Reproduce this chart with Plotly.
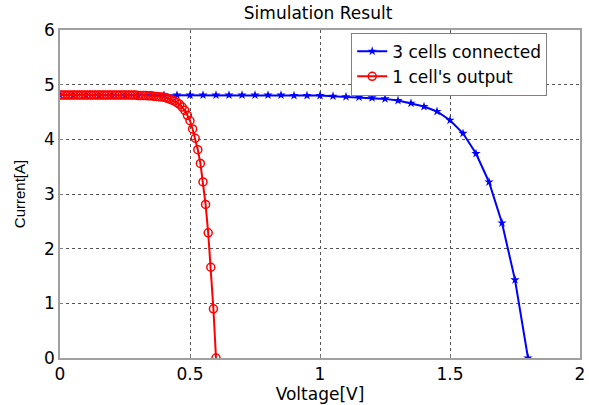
import plotly.graph_objects as go

# 3 cells in series: voltage 0..1.8 V, step 0.05
v_three = [round(i * 0.05, 2) for i in range(37)]
i_three = [4.81, 4.81, 4.81, 4.81, 4.81, 4.81, 4.81, 4.81, 4.81, 4.81,
           4.81, 4.81, 4.81, 4.81, 4.81, 4.81, 4.81, 4.81, 4.80, 4.80,
           4.80, 4.79, 4.78, 4.77, 4.76, 4.74, 4.71, 4.66, 4.60, 4.51,
           4.35, 4.11, 3.74, 3.22, 2.47, 1.43, 0.0]

# single cell: voltage 0..0.6 V, step 0.01
v_one = [round(i * 0.01, 2) for i in range(61)]
i_one = [4.81] * 30 + [4.80, 4.80, 4.80, 4.80, 4.795, 4.795, 4.79, 4.785, 4.78,
                       4.775, 4.77, 4.755, 4.74, 4.72, 4.70, 4.67, 4.64, 4.59,
                       4.53, 4.44, 4.34, 4.19, 4.02, 3.81, 3.56, 3.22, 2.81,
                       2.29, 1.66, 0.90, 0.0]

FONT = 'DejaVu Sans'

fig = go.Figure()

fig.add_trace(go.Scatter(
    x=v_three, y=i_three,
    mode='lines+markers',
    line=dict(color='#0000ff', width=2),
    marker=dict(symbol='star', size=7, color='#0000ff'),
    name='3 cells connected'
))

fig.add_trace(go.Scatter(
    x=v_one, y=i_one,
    mode='lines+markers',
    line=dict(color='#ff0000', width=2),
    marker=dict(symbol='circle-open', size=8, color='#ff0000',
                line=dict(width=1.5)),
    name="1 cell's output"
))

axis_common = dict(
    showgrid=True,
    gridcolor='#555555',
    griddash='dot',
    gridwidth=1,
    zeroline=False,
    showline=True,
    linecolor='#a0a0a0',
    linewidth=1.5,
    mirror=True,
    ticks='inside',
    ticklen=3,
    tickcolor='#808080',
    tickfont=dict(family=FONT, size=17, color='black'),
    automargin=False,
)

fig.update_layout(
    width=589,
    height=405,
    margin=dict(l=60, r=9, t=30, b=47),
    plot_bgcolor='white',
    paper_bgcolor='white',
    font=dict(family=FONT, color='black'),
    title=dict(text='Simulation Result', x=0.54, xanchor='center',
               y=0.968, yanchor='middle',
               font=dict(family=FONT, size=17, color='black')),
    xaxis=dict(range=[0, 2], dtick=0.5,
               title=dict(text='Voltage[V]', font=dict(family=FONT, size=17),
                          standoff=0),
               **axis_common),
    yaxis=dict(range=[0, 6], dtick=1,
               title=dict(text='Current[A]',
                          font=dict(family='Liberation Sans', size=15),
                          standoff=15),
               **axis_common),
    legend=dict(
        x=0.56, y=0.992, xanchor='left', yanchor='top',
        bgcolor='white', bordercolor='#808080', borderwidth=1,
        font=dict(family=FONT, size=17, color='black'),
        tracegroupgap=0,
    ),
    showlegend=True,
)

# drop the page's default body margin so the figure sits at the top-left corner
fig.write_html("out.html", config={'displayModeBar': False},
               post_script="document.body.style.margin='0';")
